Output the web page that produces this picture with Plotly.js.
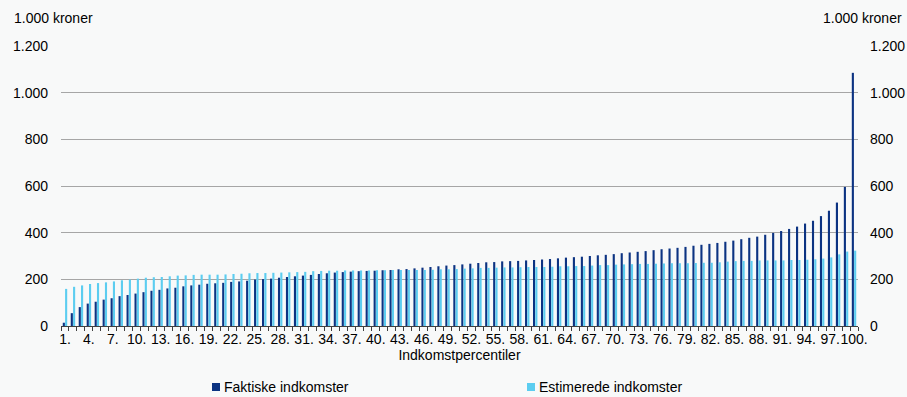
<!DOCTYPE html>
<html>
<head>
<meta charset="utf-8">
<script src="https://cdn.plot.ly/plotly-3.0.1.min.js"></script>
<style>
html,body{margin:0;padding:0;background:#f8f9f9;}
#chart{width:907px;height:397px;}
</style>
</head>
<body>
<div id="chart"></div>
<script>
const categories = ["1.","2.","3.","4.","5.","6.","7.","8.","9.","10.","11.","12.","13.","14.","15.","16.","17.","18.","19.","20.","21.","22.","23.","24.","25.","26.","27.","28.","29.","30.","31.","32.","33.","34.","35.","36.","37.","38.","39.","40.","41.","42.","43.","44.","45.","46.","47.","48.","49.","50.","51.","52.","53.","54.","55.","56.","57.","58.","59.","60.","61.","62.","63.","64.","65.","66.","67.","68.","69.","70.","71.","72.","73.","74.","75.","76.","77.","78.","79.","80.","81.","82.","83.","84.","85.","86.","87.","88.","89.","90.","91.","92.","93.","94.","95.","96.","97.","98.","99.","100."];

const tickLabels = ["1.","4.","7.","10.","13.","16.","19.","22.","25.","28.","31.","34.","37.","40.","43.","46.","49.","52.","55.","58.","61.","64.","67.","70.","73.","76.","79.","82.","85.","88.","91.","94.","97.","100."];

const faktiske = [14,55,81,96,104,113,119,128,133,139,145,151,155,161,164,170,174,177,181,183,185,189,191,194,199,201,203,207,210,213,216,219,223,226,229,231,233,235,236,237,239,240,243,244,247,250,253,256,259,261,264,267,270,273,274,277,278,279,281,283,285,287,290,293,295,297,300,303,305,308,312,315,318,321,325,329,332,335,339,344,348,352,356,361,366,372,378,383,391,399,407,416,426,439,451,471,494,529,596,1085];

const estimerede = [159,168,174,180,184,187,191,196,199,203,207,209,210,213,216,217,219,220,220,220,221,223,224,226,227,227,228,229,230,231,232,235,236,237,237,238,238,238,238,239,239,240,240,240,240,240,241,243,243,244,246,247,249,249,250,251,251,252,253,253,253,254,256,256,257,257,259,261,261,263,264,265,266,266,267,268,269,269,269,270,271,271,273,276,278,279,279,281,281,281,281,283,283,284,286,289,294,307,319,323];

const seriesNames = ["Faktiske indkomster", "Estimerede indkomster"];
const yTickVals = [0,200,400,600,800,1000,1200];
const yTickText = ["0","200","400","600","800","1.000","1.200"];

const darkBlue = "#0c3382";
const lightBlue = "#5ccdf0";
const fontFam = "Liberation Sans, Arial, sans-serif";
const FS = 14;

const W = 907, H = 397;
const M = {l:61, r:49, t:46, b:71};
const pw = W - M.l - M.r, ph = H - M.t - M.b;
const px2x = p => (p - M.l) / pw;
const py2y = p => (H - M.b - p) / ph;

const xTickText = categories.map(c => tickLabels.indexOf(c) >= 0 ? c : "");

const traces = [
  {type:"bar", name:seriesNames[0], x:categories, y:faktiske, marker:{color:darkBlue}, hoverinfo:"x+y"},
  {type:"bar", name:seriesNames[1], x:categories, y:estimerede, marker:{color:lightBlue}, hoverinfo:"x+y"},
  {type:"scatter", mode:"lines", x:categories, y:estimerede, yaxis:"y2", line:{width:0, color:"rgba(0,0,0,0)"}, showlegend:false, hoverinfo:"skip"}
];

// manual legend (square + label) positions in pixels
const legendItems = [
  {sx:212, tx:222, color:darkBlue, label:seriesNames[0]},
  {sx:527, tx:537, color:lightBlue, label:seriesNames[1]}
];
const legY = 387;

const shapes = legendItems.map(it => ({
  type:"rect", xref:"paper", yref:"paper",
  x0:px2x(it.sx), x1:px2x(it.sx+8), y0:py2y(legY+4), y1:py2y(legY-4),
  fillcolor:it.color, line:{width:0}
}));

const annotations = [
  {text:"1.000 kroner", xref:"paper", yref:"paper", x:px2x(12), xanchor:"left", y:py2y(18), yanchor:"middle", showarrow:false, font:{size:FS}},
  {text:"1.000 kroner", xref:"paper", yref:"paper", x:px2x(904), xanchor:"right", y:py2y(18), yanchor:"middle", showarrow:false, font:{size:FS}}
].concat(legendItems.map(it => ({
  text:it.label, xref:"paper", yref:"paper", x:px2x(it.tx), xanchor:"left", y:py2y(legY), yanchor:"middle",
  showarrow:false, font:{size:FS}
})));

const layout = {
  width:W, height:H,
  paper_bgcolor:"#f8f9f9", plot_bgcolor:"#f8f9f9",
  font:{family:fontFam, size:FS, color:"#000"},
  margin:{l:M.l, r:M.r, t:M.t, b:M.b, autoexpand:false},
  barmode:"group", bargap:0.42, bargroupgap:0.08,
  showlegend:false,
  xaxis:{type:"category", tickmode:"array", tickvals:categories, ticktext:xTickText,
         tickangle:0, ticks:"outside", tickson:"boundaries", ticklen:4, tickcolor:"#404040",
         showline:true, linecolor:"#404040", linewidth:1, showgrid:false, zeroline:false,
         range:[-0.5, 99.5], tickfont:{size:FS}, automargin:false,
         title:{text:"Indkomstpercentiler", font:{size:FS}, standoff:3}},
  yaxis:{range:[0,1200], tickmode:"array", tickvals:yTickVals, ticktext:yTickText,
         showgrid:true, gridcolor:"#a6a6a6", gridwidth:1, zeroline:false, showline:false,
         ticks:"", ticklabelstandoff:12, tickfont:{size:FS}, automargin:false},
  yaxis2:{overlaying:"y", side:"right", range:[0,1200], tickmode:"array", tickvals:yTickVals, ticktext:yTickText,
          showgrid:false, zeroline:false, showline:false, ticks:"", ticklabelstandoff:11, tickfont:{size:FS}, automargin:false},
  shapes:shapes,
  annotations:annotations
};

Plotly.newPlot("chart", traces, layout, {displayModeBar:false, staticPlot:true});
</script>
</body>
</html>
